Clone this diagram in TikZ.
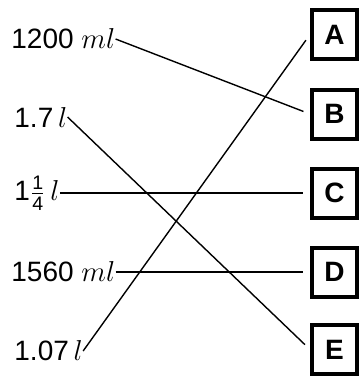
\documentclass[tikz,border=0pt]{standalone}
\usepackage{amsmath}
\usepackage{fontspec}
\setmainfont{Liberation Sans}
\usetikzlibrary{positioning}

\begin{document}
\begin{tikzpicture}[x=0.5pt,y=0.5pt]
    \tikzstyle{every node}+=[inner sep=0pt]
    \tikzstyle{qty}=[anchor=west, font=\fontsize{14}{16}\selectfont]
    \tikzstyle{letterbox}=[draw=black, line width=2pt, minimum width=22.5pt, minimum height=24.5pt, font=\fontsize{14}{16}\selectfont\bfseries]
    \tikzstyle{match}=[black, line width=0.7pt, shorten >=3.5pt]
    \useasboundingbox (0,0) rectangle (361,-376);
    % quantities
    \node [qty] (v1) at (11,-39) {1200 $ml$};
    \node [qty] (v2) at (14,-117) {1.7$\,l$};
    \node [qty] (v3) at (14,-193) {1$\frac{\text{1}}{\text{4}}\,l$};
    \node [qty] (v4) at (11,-272) {1560 $ml$};
    \node [qty] (v5) at (14,-351) {1.07$\,l$};
    % letters
    \node [letterbox] (A) at (334.5,-34.5) {A};
    \node [letterbox] (B) at (334.5,-114) {B};
    \node [letterbox] (C) at (334.5,-193) {C};
    \node [letterbox] (D) at (334.5,-272) {D};
    \node [letterbox] (E) at (334.5,-349.5) {E};
    % matching lines
    \draw [match] (v1.east) -- (B.west);
    \draw [match] (v2.east) -- (E.west);
    \draw [match] (v3.east) -- (C.west);
    \draw [match] (v4.east) -- (D.west);
    \draw [match] (v5.east) -- (A.west);
\end{tikzpicture}
\end{document}
